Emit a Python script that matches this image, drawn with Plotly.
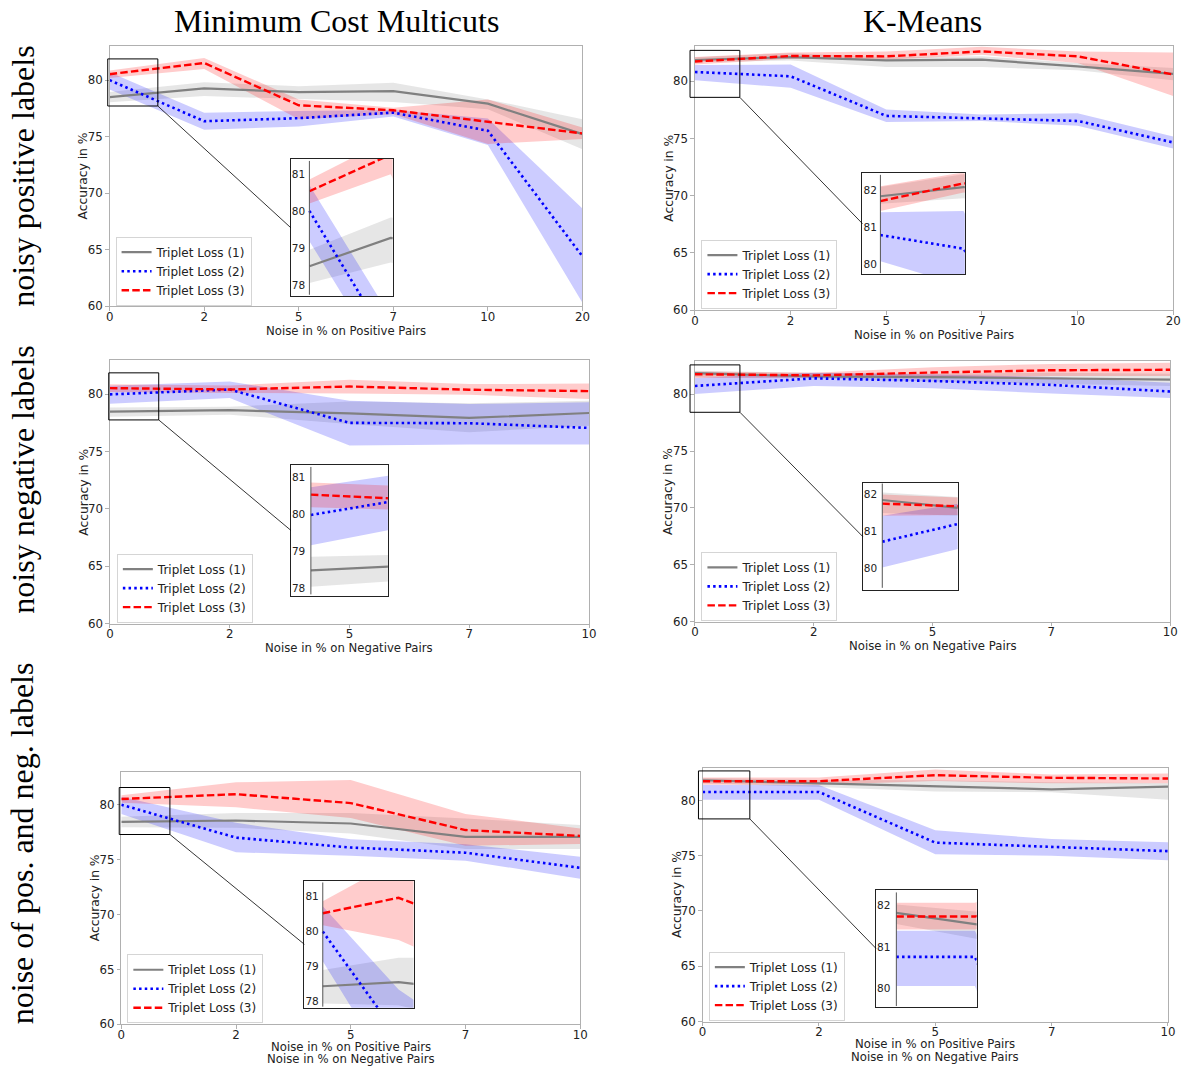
import plotly.graph_objects as go

W, H = 1195, 1070

# ---------------- data ----------------
series_names = ["Triplet Loss (1)", "Triplet Loss (2)", "Triplet Loss (3)"]
col_titles = ["Minimum Cost Multicuts", "K-Means"]
row_titles = ["noisy positive labels", "noisy negative labels", "noise of pos. and neg. labels"]
pos_ticks = ["0", "2", "5", "7", "10", "20"]
neg_ticks = ["0", "2", "5", "7", "10"]
both_ticks = ["0", "2", "5", "7", "10"]
y_ticks = [60, 65, 70, 75, 80]
inset_ticks_low = [78, 79, 80, 81]
inset_ticks_high = [80, 81, 82]
xlabel_pos = ["Noise in % on Positive Pairs"]
xlabel_neg = ["Noise in % on Negative Pairs"]
xlabel_both = ["Noise in % on Positive Pairs", "Noise in % on Negative Pairs"]
ylabel = "Accuracy in %"

# Minimum Cost Multicuts - noisy positive labels
mcm_pos_1 = [78.5, 79.27, 78.95, 79.03, 77.92, 75.23]
mcm_pos_1_lo = [78.05, 78.6, 78.36, 78.07, 77.43, 73.9]
mcm_pos_1_hi = [78.95, 79.82, 79.47, 79.77, 78.3, 76.55]
mcm_pos_2 = [80.0, 76.37, 76.64, 77.13, 75.53, 64.42]
mcm_pos_2_lo = [79.18, 75.61, 75.9, 76.78, 74.27, 60.32]
mcm_pos_2_hi = [80.7, 77.13, 77.28, 77.37, 76.6, 68.65]
mcm_pos_3 = [80.53, 81.52, 77.78, 77.34, 76.32, 75.29]
mcm_pos_3_lo = [80.2, 80.99, 76.55, 76.99, 74.36, 74.8]
mcm_pos_3_hi = [80.85, 81.96, 78.3, 77.57, 78.3, 75.82]

# K-Means - noisy positive labels
km_pos_1 = [81.85, 82.1, 81.82, 81.88, 81.3, 80.64]
km_pos_1_lo = [81.65, 81.8, 81.24, 81.24, 80.95, 80.09]
km_pos_1_hi = [82.1, 82.45, 82.1, 82.17, 81.6, 81.16]
km_pos_2 = [80.8, 80.43, 76.97, 76.76, 76.53, 74.65]
km_pos_2_lo = [80.09, 79.42, 76.44, 76.53, 76.1, 74.13]
km_pos_2_hi = [81.42, 81.45, 77.54, 77.1, 77.2, 75.17]
km_pos_3 = [81.72, 82.2, 82.17, 82.6, 82.17, 80.58]
km_pos_3_lo = [81.45, 81.95, 81.88, 82.3, 81.6, 78.7]
km_pos_3_hi = [82.12, 82.5, 82.6, 83.0, 82.6, 82.5]

# Minimum Cost Multicuts - noisy negative labels
mcm_neg_1 = [78.47, 78.6, 78.32, 77.92, 78.35]
mcm_neg_1_lo = [78.03, 78.2, 77.4, 76.68, 77.25]
mcm_neg_1_hi = [78.84, 78.9, 79.36, 79.2, 79.42]
mcm_neg_2 = [79.97, 80.4, 77.49, 77.46, 77.05]
mcm_neg_2_lo = [79.15, 79.65, 75.52, 75.6, 75.6]
mcm_neg_2_hi = [80.72, 81.1, 79.42, 79.13, 79.28]
mcm_neg_3 = [80.52, 80.4, 80.66, 80.38, 80.26]
mcm_neg_3_lo = [80.18, 80.1, 80.06, 79.94, 79.57]
mcm_neg_3_hi = [80.85, 80.75, 81.24, 80.87, 80.92]

# K-Means - noisy negative labels
km_neg_1 = [81.85, 81.55, 81.5, 81.39, 81.27]
km_neg_1_lo = [81.5, 81.39, 81.1, 80.92, 80.72]
km_neg_1_hi = [82.05, 81.88, 81.8, 81.88, 81.8]
km_neg_2 = [80.72, 81.39, 81.16, 80.81, 80.23]
km_neg_2_lo = [80.02, 80.72, 80.52, 80.06, 79.65]
km_neg_2_hi = [81.42, 81.88, 81.73, 81.5, 81.0]
km_neg_3 = [81.75, 81.65, 81.9, 82.1, 82.14]
km_neg_3_lo = [81.42, 81.45, 81.39, 81.59, 81.59]
km_neg_3_hi = [82.0, 81.88, 82.37, 82.66, 82.75]

# Minimum Cost Multicuts - noise of pos. and neg. labels
mcm_both_1 = [78.44, 78.56, 78.29, 77.07, 77.07]
mcm_both_1_lo = [77.95, 77.9, 77.37, 75.96, 75.96]
mcm_both_1_hi = [78.9, 79.25, 79.25, 78.74, 78.14]
mcm_both_2 = [80.0, 77.0, 76.1, 75.63, 74.25]
mcm_both_2_lo = [79.15, 75.66, 75.36, 74.9, 73.26]
mcm_both_2_hi = [80.72, 78.35, 76.86, 76.4, 75.27]
mcm_both_3 = [80.52, 80.96, 80.15, 77.69, 77.16]
mcm_both_3_lo = [80.18, 79.76, 78.8, 76.26, 76.41]
mcm_both_3_hi = [80.86, 82.04, 82.25, 79.16, 77.84]

# K-Means - noise of pos. and neg. labels
km_both_1 = [81.82, 81.55, 81.3, 81.0, 81.24]
km_both_1_lo = [81.55, 81.2, 80.8, 80.74, 80.06]
km_both_1_hi = [82.02, 81.85, 81.83, 81.63, 81.54]
km_both_2 = [80.76, 80.76, 76.18, 75.77, 75.41]
km_both_2_lo = [80.06, 80.06, 75.12, 75.0, 74.59]
km_both_2_hi = [81.39, 81.39, 77.3, 76.5, 76.21]
km_both_3 = [81.73, 81.73, 82.28, 82.04, 81.98]
km_both_3_lo = [81.42, 81.42, 81.75, 81.54, 81.54]
km_both_3_hi = [82.06, 82.06, 82.8, 82.34, 82.43]

panels = [
    dict(ticks=pos_ticks, xlabel=xlabel_pos, itick=inset_ticks_low,
         series=[(mcm_pos_1, mcm_pos_1_lo, mcm_pos_1_hi), (mcm_pos_2, mcm_pos_2_lo, mcm_pos_2_hi),
                 (mcm_pos_3, mcm_pos_3_lo, mcm_pos_3_hi)]),
    dict(ticks=pos_ticks, xlabel=xlabel_pos, itick=inset_ticks_high,
         series=[(km_pos_1, km_pos_1_lo, km_pos_1_hi), (km_pos_2, km_pos_2_lo, km_pos_2_hi),
                 (km_pos_3, km_pos_3_lo, km_pos_3_hi)]),
    dict(ticks=neg_ticks, xlabel=xlabel_neg, itick=inset_ticks_low,
         series=[(mcm_neg_1, mcm_neg_1_lo, mcm_neg_1_hi), (mcm_neg_2, mcm_neg_2_lo, mcm_neg_2_hi),
                 (mcm_neg_3, mcm_neg_3_lo, mcm_neg_3_hi)]),
    dict(ticks=neg_ticks, xlabel=xlabel_neg, itick=inset_ticks_high,
         series=[(km_neg_1, km_neg_1_lo, km_neg_1_hi), (km_neg_2, km_neg_2_lo, km_neg_2_hi),
                 (km_neg_3, km_neg_3_lo, km_neg_3_hi)]),
    dict(ticks=both_ticks, xlabel=xlabel_both, itick=inset_ticks_low,
         series=[(mcm_both_1, mcm_both_1_lo, mcm_both_1_hi), (mcm_both_2, mcm_both_2_lo, mcm_both_2_hi),
                 (mcm_both_3, mcm_both_3_lo, mcm_both_3_hi)]),
    dict(ticks=both_ticks, xlabel=xlabel_both, itick=inset_ticks_high,
         series=[(km_both_1, km_both_1_lo, km_both_1_hi), (km_both_2, km_both_2_lo, km_both_2_hi),
                 (km_both_3, km_both_3_lo, km_both_3_hi)]),
]

# ---------------- geometry (pixels) ----------------
geom = [
    dict(L=106.7, R=584.3, T=46, B=308.3, ytop=83.05, leg=(112.7, 302.7),
         box=(104.8, 59.3, 155.4, 106.7),
         ins=dict(FL=289.6, FR=392.6, FT=160, FB=298.3, S=308.5, DR=390.6, DT=162, DB=296.7,
                  xr=1.0, va=81, pa=175, u=37.23)),
    dict(L=698, R=1181, T=46, B=312.3, ytop=83.1, leg=(704.5, 305.7),
         box=(693, 50.7, 743.3, 98),
         ins=dict(FL=867.2, FR=970.6, FT=174.3, FB=276, S=885.3, DR=969.2, DT=176, DB=275,
                  xr=1.0, va=82, pa=192, u=37.15)),
    dict(L=107, R=591, T=362.7, B=627.7, ytop=82.94, leg=(114, 621.7),
         box=(105.8, 375.3, 156.3, 422.7),
         ins=dict(FL=289.8, FR=387.8, FT=467.7, FB=600, S=310, DR=385, DT=470, DB=598.3,
                  xr=0.78, va=81, pa=480, u=37.23)),
    dict(L=698, R=1178, T=363.3, B=625.7, ytop=82.92, leg=(704.5, 620),
         box=(693, 367.3, 743.4, 415),
         ins=dict(FL=867.4, FR=963.3, FT=485.7, FB=594.3, S=887.2, DR=961.9, DT=486.7, DB=591.7,
                  xr=0.7, va=82, pa=497.7, u=37.15)),
    dict(L=118.5, R=582, T=777.3, B=1031, ytop=82.96, leg=(124.6, 1025),
         box=(116.4, 792.7, 167.6, 840),
         ins=dict(FL=303.4, FR=413.7, FT=886.7, FB=1014.3, S=322, DR=412, DT=888.3, DB=1013.3,
                  xr=1.175, va=81, pa=902.3, u=35.33)),
    dict(L=705.7, R=1175.8, T=772.7, B=1028.3, ytop=82.96, leg=(712, 1022.3),
         box=(701.5, 776, 753.4, 824.3),
         ins=dict(FL=880.8, FR=982.5, FT=896, FB=1013.3, S=901.4, DR=980.8, DT=898.3, DB=1012.7,
                  xr=1.0, va=82, pa=911.3, u=41.83)),
]

styles = [
    dict(color="#808080", dash="solid", width=2.2, fill="rgba(128,128,128,0.2)"),
    dict(color="#0000ff", dash="2.5px,3.2px", width=2.6, fill="rgba(0,0,255,0.2)"),
    dict(color="#ff0000", dash="7.5px,3.2px", width=2.4, fill="rgba(255,0,0,0.2)"),
]

FONT = "DejaVu Sans"
SERIF = "Liberation Serif, Times New Roman, serif"
TXT = "#222222"


def px(x):
    return x / W


def py(y):
    return 1 - y / H


def ax_key(prefix, i):
    return prefix + ("" if i == 1 else str(i))


def ref(prefix, i):
    return prefix + ("" if i == 1 else str(i))


fig = go.Figure()
layout = dict(
    width=W, height=H, autosize=False,
    margin=dict(l=0, r=0, t=0, b=0),
    paper_bgcolor="white", plot_bgcolor="white",
    font=dict(family=FONT, size=11.5, color=TXT),
    showlegend=True,
)
shapes = []
annotations = []


def add_series(panel, xi, yi, legend_name, show_legend):
    n = len(panel["ticks"])
    idx = list(range(n))
    for s, (mean, lo, hi) in enumerate(panel["series"]):
        st = styles[s]
        fig.add_trace(go.Scatter(
            x=idx + idx[::-1], y=list(hi) + list(lo)[::-1],
            mode="lines", fill="toself", fillcolor=st["fill"],
            line=dict(width=0, color="rgba(0,0,0,0)"),
            hoverinfo="skip", showlegend=False,
            xaxis=ref("x", xi), yaxis=ref("y", yi)))
    for s, (mean, lo, hi) in enumerate(panel["series"]):
        st = styles[s]
        fig.add_trace(go.Scatter(
            x=idx, y=mean, mode="lines", name=series_names[s],
            line=dict(color=st["color"], dash=st["dash"], width=st["width"]),
            showlegend=show_legend, legend=legend_name,
            xaxis=ref("x", xi), yaxis=ref("y", yi)))


# main panels first
for p, (panel, g) in enumerate(zip(panels, geom)):
    i = p + 1
    leg = ax_key("legend", i)
    add_series(panel, i, i, leg, True)
    n = len(panel["ticks"])
    layout[ax_key("xaxis", i)] = dict(
        domain=[px(g["L"]), px(g["R"])], range=[0, n - 1], anchor=ref("y", i),
        tickmode="array", tickvals=list(range(n)), ticktext=panel["ticks"],
        showline=True, mirror=True, linecolor="#b0b0b0", linewidth=1,
        ticks="outside", ticklen=3.5, tickcolor="#b0b0b0", ticklabelstandoff=-4,
        showgrid=False, zeroline=False, tickfont=dict(size=11.8, color=TXT))
    layout[ax_key("yaxis", i)] = dict(
        domain=[py(g["B"]), py(g["T"])], range=[60, g["ytop"]], anchor=ref("x", i),
        tickmode="array", tickvals=y_ticks,
        showline=True, mirror=True, linecolor="#b0b0b0", linewidth=1,
        ticks="outside", ticklen=3.5, tickcolor="#b0b0b0",
        showgrid=False, zeroline=False, tickfont=dict(size=11.8, color=TXT))
    lx, lb = g["leg"]
    layout[leg] = dict(
        x=px(lx), y=py(lb + 5), xanchor="left", yanchor="bottom",
        bgcolor="rgba(255,255,255,0.85)", bordercolor="#d5d5d5", borderwidth=1,
        font=dict(size=12, color=TXT, family=FONT), itemwidth=30, tracegroupgap=0)
    # axis titles
    annotations.append(dict(
        text=ylabel, x=px(g["L"] - 26.5), y=py((g["T"] + g["B"]) / 2), xref="paper", yref="paper",
        textangle=-90, showarrow=False, xanchor="center", yanchor="middle",
        font=dict(size=12.3, color=TXT, family=FONT)))
    for k, line in enumerate(panel["xlabel"]):
        off = 25 if len(panel["xlabel"]) == 1 else (23 + 12.3 * k)
        annotations.append(dict(
            text=line, x=px((g["L"] + g["R"]) / 2), y=py(g["B"] + off), xref="paper", yref="paper",
            showarrow=False, xanchor="center", yanchor="middle",
            font=dict(size=11.7, color=TXT, family=FONT)))
    # zoom box and connector
    bx0, by0, bx1, by1 = g["box"]
    shapes.append(dict(type="rect", xref="paper", yref="paper",
                       x0=px(bx0), x1=px(bx1), y0=py(by1), y1=py(by0),
                       line=dict(color="black", width=1), layer="above"))
    ins = g["ins"]
    shapes.append(dict(type="line", xref="paper", yref="paper",
                       x0=px(bx1), y0=py(by1), x1=px(ins["FL"]), y1=py((ins["FT"] + ins["FB"]) / 2),
                       line=dict(color="black", width=0.8), layer="above"))

# insets
for p, (panel, g) in enumerate(zip(panels, geom)):
    i = p + 7
    add_series(panel, i, i, "legend", False)
    ins = g["ins"]
    k = ins["xr"] / (ins["DR"] - ins["S"])
    x0 = -(ins["S"] - ins["FL"]) * k
    x1 = ins["xr"] + (ins["FR"] - ins["DR"]) * k
    ytop = ins["va"] + (ins["pa"] - ins["FT"]) / ins["u"]
    ybot = ins["va"] - (ins["FB"] - ins["pa"]) / ins["u"]
    layout[ax_key("xaxis", i)] = dict(
        domain=[px(ins["FL"]), px(ins["FR"])], range=[x0, x1], anchor=ref("y", i),
        showticklabels=False, ticks="", showgrid=False, zeroline=False,
        showline=True, mirror=True, linecolor="#222222", linewidth=1.3)
    layout[ax_key("yaxis", i)] = dict(
        domain=[py(ins["FB"]), py(ins["FT"])], range=[ybot, ytop], anchor=ref("x", i),
        tickmode="array", tickvals=panel["itick"], ticklabelposition="inside",
        ticks="", showgrid=False, zeroline=False,
        showline=True, mirror=True, linecolor="#222222", linewidth=1.3,
        tickfont=dict(size=10.5, color=TXT))
    shapes.append(dict(type="line", xref="paper", yref="paper",
                       x0=px(ins["S"]), x1=px(ins["S"]), y0=py(ins["DB"]), y1=py(ins["DT"]),
                       line=dict(color="#555555", width=1), layer="above"))

# column and row titles
for c, (t, cx) in enumerate(zip(col_titles, [336, 928])):
    annotations.append(dict(text=t, x=px(cx), y=py(21), xref="paper", yref="paper",
                            showarrow=False, xanchor="center", yanchor="middle",
                            font=dict(size=32, color="black", family=SERIF)))
for r, (t, cy) in enumerate(zip(row_titles, [177, 483, 849])):
    annotations.append(dict(text=t, x=px(19), y=py(cy), xref="paper", yref="paper",
                            showarrow=False, xanchor="center", yanchor="middle", textangle=-90,
                            font=dict(size=32, color="black", family=SERIF)))

layout["shapes"] = shapes
layout["annotations"] = annotations
fig.update_layout(**layout)
fig.write_html("out.html")
